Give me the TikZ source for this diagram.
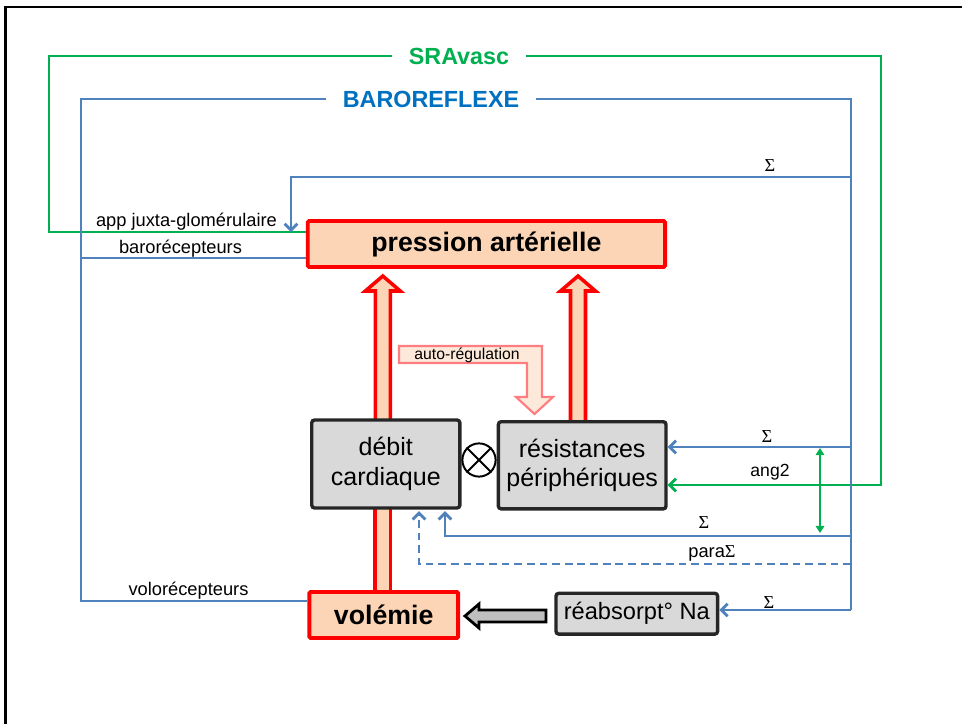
\documentclass[tikz,border=0pt]{standalone}
\usepackage{fontspec}
\usepackage{xcolor}
\setmainfont{Liberation Sans}
\newfontfamily\sigmafont{Liberation Serif}
\usetikzlibrary{arrows.meta}

\definecolor{bleuligne}{HTML}{4F81BD}
\definecolor{bleutitre}{HTML}{0070C0}
\definecolor{vertsra}{HTML}{00B050}
\definecolor{peche}{HTML}{FBD5B5}
\definecolor{rosepale}{HTML}{FDE9D9}
\definecolor{rougeclair}{HTML}{FF7C80}
\definecolor{grisboite}{HTML}{D9D9D9}
\definecolor{grisfonce}{HTML}{262626}
\definecolor{grisfleche}{HTML}{BFBFBF}

\tikzset{
  boiterouge/.style={draw=red, line width=2.8pt, fill=peche, rounded corners=1pt,
    inner sep=0pt, font=\fontsize{19}{22}\selectfont\bfseries},
  boitegrise/.style={draw=grisfonce, line width=2.4pt, fill=grisboite, rounded corners=2pt,
    inner sep=0pt, align=center, font=\fontsize{17.8}{21}\selectfont},
  titre/.style={inner xsep=12pt, inner ysep=0pt, font=\fontsize{16.6}{19}\selectfont\bfseries},
  lienbleu/.style={draw=bleuligne, line width=2pt},
  lienvert/.style={draw=vertsra, line width=2pt},
  pointe/.style={-{Straight Barb[length=4.5pt,width=9pt]}},
  etiquette/.style={inner sep=0pt, font=\fontsize{13}{15}\selectfont},
  sigma/.style={inner sep=0pt, font=\sigmafont\fontsize{13}{15}\selectfont},
  grossefleche/.style={draw=red, line width=2.5pt, fill=peche, line join=miter}
}

% grosse flèche verticale : abscisse, bas, pointe
\newcommand{\grossefleche}[3]{%
  \draw[grossefleche] (#1-7.5,#2) -- (#1-7.5,#3+15) -- (#1-17.5,#3+15) -- (#1,#3)
    -- (#1+17.5,#3+15) -- (#1+7.5,#3+15) -- (#1+7.5,#2) -- cycle;}

\begin{document}
\begin{tikzpicture}[x=0.025cm, y=-0.025cm]

\useasboundingbox (0,0) rectangle (962,724);
\fill[white] (0,0) rectangle (962,724);

% cadre de la diapo
\draw[black, line width=1.6pt] (5.5,724) -- (5.5,7) -- (962,7);

% flèches épaisses vers la pression
\grossefleche{382.8}{424}{276}
\grossefleche{578}{425}{276}
\draw[grossefleche] (375,506) rectangle (390.5,594);

% auto-régulation
\draw[draw=rougeclair, line width=1.5pt, fill=rosepale, line join=miter]
  (399,346) -- (542,346) -- (542,397) -- (553,397) -- (534.5,414) -- (516,397)
  -- (527,397) -- (527,363) -- (399,363) -- cycle;
\node[inner sep=0pt, font=\fontsize{11.2}{13}\selectfont] (autoreg) at (467,355) {auto-régulation};

% boîtes
\node[boiterouge, minimum width=8.93cm, minimum height=1.15cm] (pression) at (486.4,244) {pression artérielle};
\node[boitegrise, minimum width=3.7cm, minimum height=2.2cm] (debit) at (385.8,464) {débit\\cardiaque};
\node[boitegrise, minimum width=4.19cm, minimum height=2.18cm] (resist) at (582.2,465.3) {résistances\\périphériques};
\node[draw=black, line width=1.4pt, circle, minimum size=0.83cm, inner sep=0pt] (produit) at (479,460) {};
\draw[line width=1.4pt] (produit.north west) -- (produit.south east)
  (produit.north east) -- (produit.south west);
\node[boiterouge, minimum width=3.72cm, minimum height=1.15cm] (volemie) at (383.7,615) {volémie};
\node[boitegrise, minimum width=4.04cm, minimum height=1.02cm, font=\fontsize{16.8}{20}\selectfont] (reabs) at (636.8,613.7) {réabsorpt° Na};

% réabsorption -> volémie
\draw[draw=black, line width=2pt, fill=grisfleche, line join=miter]
  (546,610) -- (479,610) -- (479,604) -- (465,616) -- (479,628) -- (479,622) -- (546,622) -- cycle;

% titres des boucles
\node[titre, text=vertsra] (sra) at (459,56) {SRAvasc};
\node[titre, text=bleutitre] (baro) at (431,99) {BAROREFLEXE};

% coins des boucles
\coordinate (vhg) at (49,57);
\coordinate (vhd) at (881,57);
\coordinate (vbg) at (49,232);
\coordinate (vbd) at (881,485);
\coordinate (bhg) at (81,101);
\coordinate (bhd) at (851,101);
\coordinate (bbg) at (81,601);
\coordinate (bbd) at (851,610);
\coordinate (bpress) at (81,258);
\coordinate (s1) at (851,177);
\coordinate (s1c) at (291,177);
\coordinate (s2) at (851,447);
\coordinate (s3) at (851,536);
\coordinate (s3c) at (445,536);
\coordinate (s4) at (851,564);
\coordinate (s4c) at (419,564);
\coordinate (a1) at (820,448);
\coordinate (a2) at (820,533);

% boucle SRA (vert)
\draw[lienvert] (sra.west) -- (vhg |- sra.west) -- (vbg) -- (pression.west |- vbg);
\draw[lienvert, pointe] (sra.east) -- (vhd |- sra.east) -- (vbd) -- (resist.east |- vbd);
\draw[lienvert, {Triangle[length=5pt,width=6pt]}-{Triangle[length=5pt,width=6pt]}] (a1) -- (a2);

% baroréflexe (bleu)
\draw[lienbleu] (baro.west) -- (bhg |- baro.west) -- (bbg) -- (volemie.west |- bbg);
\draw[lienbleu] (bpress) -- (pression.west |- bpress);
\draw[lienbleu] (baro.east) -- (bhd |- baro.east) -- (bbd);
\draw[lienbleu, pointe] (s1) -- (s1c) -- (s1c |- vbg);
\draw[lienbleu, pointe] (s2) -- (resist.east |- s2);
\draw[lienbleu, pointe] (s3) -- (s3c) -- ([yshift=-1pt]s3c |- debit.south);
\draw[lienbleu, pointe, dash pattern=on 5.5pt off 3.5pt] (s4) -- (s4c) -- ([yshift=-1pt]s4c |- debit.south);
\draw[lienbleu, pointe] (bbd) -- (reabs.east |- bbd);

% étiquettes
\node[etiquette] (lbjuxta) at (186.5,221.5) {app juxta-glomérulaire};
\node[etiquette] (lbbaro) at (180.5,249) {barorécepteurs};
\node[etiquette] (lbvolo) at (188.5,591) {volorécepteurs};
\node[etiquette, font=\fontsize{12.5}{15}\selectfont] (lbang) at (770,472) {ang2};
\node[etiquette] (lbpara) at (712,553) {para{\sigmafont Σ}};
\node[sigma] (sig1) at (770,166) {Σ};
\node[sigma] (sig2) at (767,437) {Σ};
\node[sigma] (sig3) at (704,523) {Σ};
\node[sigma] (sig4) at (769,603) {Σ};

\end{tikzpicture}
\end{document}
